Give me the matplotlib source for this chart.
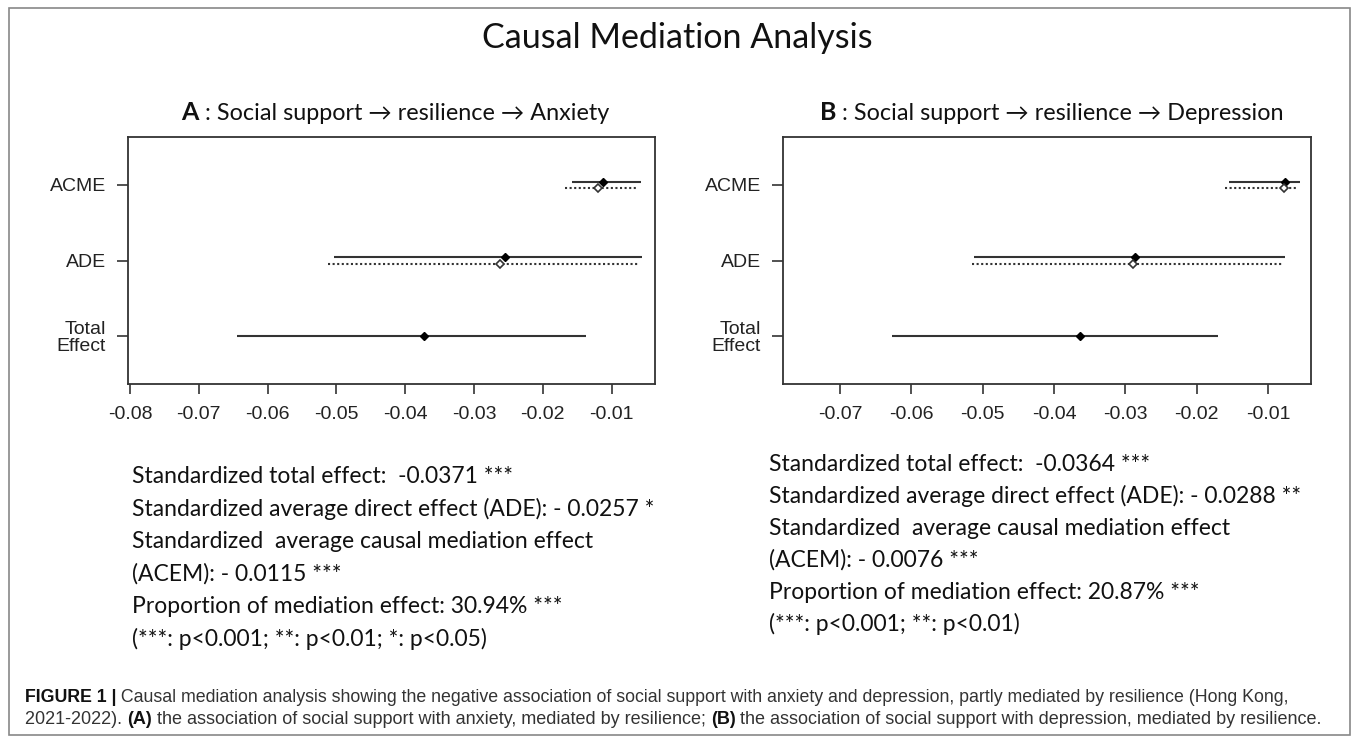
import matplotlib.pyplot as plt
from matplotlib.patches import Rectangle

# effect rows, top to bottom
effects = ["ACME", "ADE", "Total\nEffect"]
rows = [3, 2, 1]

# panel A (anxiety): treated = solid line / filled dot, control = dotted / open dot
a_est = [-0.0113, -0.0255, -0.0373]
a_lo = [-0.0157, -0.0504, -0.0645]
a_hi = [-0.0057, -0.0056, -0.0138]
a_est_c = [-0.0120, -0.0262]
a_lo_c = [-0.0168, -0.0513]
a_hi_c = [-0.0063, -0.0060]
a_ticks = [-0.08, -0.07, -0.06, -0.05, -0.04, -0.03, -0.02, -0.01]

# panel B (depression)
b_est = [-0.0077, -0.0287, -0.0364]
b_lo = [-0.0155, -0.0512, -0.0627]
b_hi = [-0.0055, -0.0077, -0.0170]
b_est_c = [-0.0078, -0.0290]
b_lo_c = [-0.0160, -0.0515]
b_hi_c = [-0.0058, -0.0080]
b_ticks = [-0.07, -0.06, -0.05, -0.04, -0.03, -0.02, -0.01]

a_notes = [
    "Standardized total effect:  -0.0371 ***",
    "Standardized average direct effect (ADE): - 0.0257 *",
    "Standardized  average causal mediation effect",
    "(ACEM): - 0.0115 ***",
    "Proportion of mediation effect: 30.94% ***",
    "(***: p<0.001; **: p<0.01; *: p<0.05)",
]
b_notes = [
    "Standardized total effect:  -0.0364 ***",
    "Standardized average direct effect (ADE): - 0.0288 **",
    "Standardized  average causal mediation effect",
    "(ACEM): - 0.0076 ***",
    "Proportion of mediation effect: 20.87% ***",
    "(***: p<0.001; **: p<0.01)",
]

W, H = 1355, 737
CAL = ["Lato", "DejaVu Sans"]
ARIAL = ["Liberation Sans", "DejaVu Sans"]
CAP = ["Liberation Sans Narrow", "Liberation Sans", "DejaVu Sans"]

fig = plt.figure(figsize=(W / 100, H / 100), dpi=100)
fig.patches.append(Rectangle((9 / W, 2 / H), 1341 / W, 727 / H, transform=fig.transFigure,
                             fill=False, edgecolor="#888888", linewidth=1.2))
renderer = fig.canvas.get_renderer()


def box(x0, y0, x1, y1):
    # pixel box (top-left origin) -> figure fraction rect
    return [x0 / W, 1 - y1 / H, (x1 - x0) / W, (y1 - y0) / H]


def forest(ax, est, lo, hi, est_c, lo_c, hi_c, ticks, xlim):
    off = 0.045
    for i, y in enumerate(rows):
        yt = y + off if i < 2 else y
        ax.plot([lo[i], hi[i]], [yt, yt], color="#333333", lw=1.5, solid_capstyle="butt")
        ax.plot(est[i], yt, "D", color="black", ms=4.5)
        if i < 2:
            ax.plot([lo_c[i], hi_c[i]], [y - off, y - off], color="#333333", lw=1.5,
                    linestyle=(0, (1, 1.2)))
            ax.plot(est_c[i], y - off, "D", mfc="white", mec="#333333", ms=4.5, mew=1.2)
    ax.set_xlim(*xlim)
    ax.set_ylim(0.365, 3.635)
    ax.set_yticks(rows)
    ax.set_yticklabels(effects, family=ARIAL, fontsize=14, color="#222222", linespacing=1.0)
    ax.set_xticks(ticks)
    ax.set_xticklabels([f"{t:.2f}" for t in ticks], family=ARIAL, fontsize=14, color="#222222")
    ax.tick_params(axis="x", length=7, width=1.2, color="#333333", pad=9)
    ax.tick_params(axis="y", length=8, width=1.2, color="#333333", pad=8)
    for s in ax.spines.values():
        s.set_linewidth(1.3)
        s.set_color("#333333")


ax_a = fig.add_axes(box(128, 137, 655, 384))
forest(ax_a, a_est, a_lo, a_hi, a_est_c, a_lo_c, a_hi_c, a_ticks, (-0.0803, -0.0037))
ax_b = fig.add_axes(box(783, 137, 1311, 384))
forest(ax_b, b_est, b_lo, b_hi, b_est_c, b_lo_c, b_hi_c, b_ticks, (-0.078, -0.004))

fig.text(677 / W, 1 - 48 / H, "Causal Mediation Analysis", family=CAL, fontsize=24.5,
         ha="center", va="baseline", color="#111111")


def runs(x, y, parts, ha="left", **kw):
    # draw text pieces one after another on one baseline (pixel coords)
    texts, widths = [], []
    for s, props in parts:
        t = fig.text(0, 1 - y / H, s, va="baseline", **{**kw, **props})
        texts.append(t)
        widths.append(t.get_window_extent(renderer).width)
    if ha == "center":
        x -= sum(widths) / 2
    for t, w in zip(texts, widths):
        t.set_x(x / W)
        x += w


runs(395, 120, [("A", dict(fontsize=18, weight="bold")),
                (" : Social support → resilience → Anxiety", dict(fontsize=16.8))],
     ha="center", family=CAL, color="#111111")
runs(1052, 120, [("B", dict(fontsize=18, weight="bold")),
                 (" : Social support → resilience → Depression", dict(fontsize=16.8))],
     ha="center", family=CAL, color="#111111")

for i, line in enumerate(a_notes):
    fig.text(132 / W, 1 - (483 + 32.5 * i) / H, line, family=CAL, fontsize=16.5,
             va="baseline", color="#111111")
for i, line in enumerate(b_notes):
    fig.text(769 / W, 1 - (471 + 32 * i) / H, line, family=CAL, fontsize=16.5,
             va="baseline", color="#111111")

runs(25, 702, [("FIGURE 1 |", dict(weight="bold", color="#111111")),
               (" Causal mediation analysis showing the negative association of social support with "
                "anxiety and depression, partly mediated by resilience (Hong Kong,", {})],
     family=CAP, fontsize=12.8, color="#333333")
runs(25, 724, [("2021-2022). ", {}), ("(A)", dict(weight="bold", color="#111111")),
               (" the association of social support with anxiety, mediated by resilience; ", {}),
               ("(B)", dict(weight="bold", color="#111111")),
               (" the association of social support with depression, mediated by resilience.", {})],
     family=CAP, fontsize=13, color="#333333")

fig.savefig("out.png", dpi=100)
